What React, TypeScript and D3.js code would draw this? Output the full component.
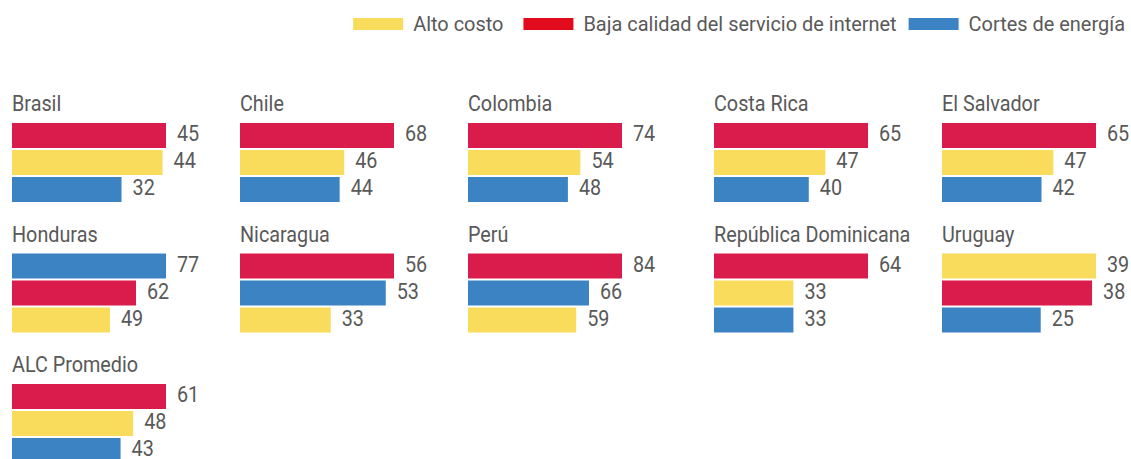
import React, { useLayoutEffect, useRef, useState } from "react";
import * as d3 from "d3";

const countries = ["Brasil", "Chile", "Colombia", "Costa Rica", "El Salvador", "Honduras", "Nicaragua", "Perú", "República Dominicana", "Uruguay", "ALC Promedio"];
const altoCosto = [44, 46, 54, 47, 47, 49, 33, 59, 33, 39, 48];
const bajaCalidad = [45, 68, 74, 65, 65, 62, 56, 84, 64, 38, 61];
const cortesEnergia = [32, 44, 48, 40, 42, 77, 53, 66, 33, 25, 43];
const seriesNames = ["Alto costo", "Baja calidad del servicio de internet", "Cortes de energía"];

const W = 1131;
const H = 459;
const FONT = "Roboto, 'DejaVu Sans', sans-serif";
const TEXT = "#595959";
const barColors: Record<string, string> = { alto: "#f9dc5c", baja: "#d91c4b", cortes: "#3b83c3" };
const legendColors = ["#f9dc5c", "#e20b1e", "#3b83c3"];

const colX = [12, 240, 468, 714, 942];
const rowY = [123, 253.5, 384];
const maxBar = 154;
const K = 0.9; // horizontal condensing of chart text
const KL = 0.95; // horizontal condensing of legend text

function CText({ x, y, k, size, children, tref }: any) {
  return (
    <g transform={`translate(${x},${y}) scale(${k},1)`}>
      <text ref={tref} x={0} y={0} fontSize={size} fill={TEXT}>{children}</text>
    </g>
  );
}

export default function App() {
  const band = d3.scaleBand<number>().domain([0, 1, 2]).range([0, 79]).paddingInner(2 / 27).paddingOuter(0);

  const textRefs = useRef<(SVGTextElement | null)[]>([]);
  const [widths, setWidths] = useState<number[] | null>(null);
  useLayoutEffect(() => {
    const w = textRefs.current.map((t) => (t ? t.getComputedTextLength() * KL : 0));
    setWidths(w);
  }, []);

  const gapsAfter = [20, 12];
  let legendPos: { sx: number; tx: number }[] = [{ sx: 356, tx: 416 }, { sx: 527, tx: 587 }, { sx: 913, tx: 973 }];
  if (widths) {
    let end = 1125;
    const tmp: { sx: number; tx: number }[] = [];
    for (let i = seriesNames.length - 1; i >= 0; i--) {
      const tx = end - widths[i];
      const sx = tx - 10 - 50;
      tmp[i] = { sx, tx };
      end = sx - (gapsAfter[i - 1] ?? 20);
    }
    legendPos = tmp;
  }

  return (
    <div>
      <style>{`body{margin:0}`}</style>
      <svg width={W} height={H} style={{ display: "block", fontFamily: FONT }}>
        <rect width={W} height={H} fill="#ffffff" />
        {seriesNames.map((s, i) => (
          <g key={s}>
            <rect x={legendPos[i].sx} y={18} width={50} height={12} fill={legendColors[i]} />
            <CText x={legendPos[i].tx} y={30.5} k={KL} size={21} tref={(el: SVGTextElement | null) => { textRefs.current[i] = el; }}>{s}</CText>
          </g>
        ))}
        {countries.map((c, i) => {
          const x0 = colX[i % 5];
          const y0 = rowY[Math.floor(i / 5)];
          const items = [
            { key: "baja", v: bajaCalidad[i] },
            { key: "alto", v: altoCosto[i] },
            { key: "cortes", v: cortesEnergia[i] },
          ];
          const sorted = items.slice().sort((a, b) => b.v - a.v);
          const max = d3.max(sorted, (d) => d.v) as number;
          const xs = d3.scaleLinear().domain([0, max]).range([0, maxBar]);
          return (
            <g key={c} transform={`translate(${x0},${y0})`}>
              <CText x={0} y={-12} k={K} size={22}>{c}</CText>
              {sorted.map((d, j) => (
                <g key={d.key}>
                  <rect x={0} y={band(j)} width={xs(d.v)} height={band.bandwidth()} fill={barColors[d.key]} />
                  <CText x={xs(d.v) + 11} y={(band(j) as number) + band.bandwidth() / 2 + 5.5} k={K} size={22}>{d.v}</CText>
                </g>
              ))}
            </g>
          );
        })}
      </svg>
    </div>
  );
}
